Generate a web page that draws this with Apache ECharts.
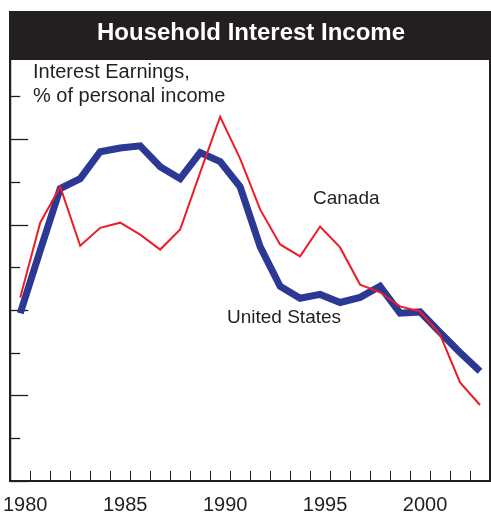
<!DOCTYPE html>
<html>
<head>
<meta charset="utf-8">
<script src="https://cdn.jsdelivr.net/npm/echarts@6/dist/echarts.min.js"></script>
<style>
  html, body { margin: 0; padding: 0; background: #ffffff; }
  #chart { width: 491px; height: 515px; }
</style>
</head>
<body>
<div id="chart"></div>
<script>
// Years on the horizontal axis
const years = ['1980','1981','1982','1983','1984','1985','1986','1987','1988','1989','1990','1991',
               '1992','1993','1994','1995','1996','1997','1998','1999','2000','2001','2002','2003'];

// Interest earnings, % of personal income
const unitedStates = [9.93, 11.40, 12.85, 13.08, 13.71, 13.80, 13.85, 13.36, 13.08, 13.69, 13.48, 12.89,
                      11.49, 10.56, 10.28, 10.37, 10.18, 10.30, 10.56, 9.93, 9.96, 9.48, 9.01, 8.57];
const canada = [10.30, 12.05, 12.89, 11.51, 11.93, 12.05, 11.77, 11.42, 11.89, 13.22, 14.53, 13.55,
                12.36, 11.54, 11.26, 11.96, 11.47, 10.60, 10.42, 10.09, 9.97, 9.43, 8.31, 7.78];

// Vertical axis range (unlabelled ticks)
const yMin = 6, yMax = 16, yStep = 2;

const chart = echarts.init(document.getElementById('chart'), null, { renderer: 'canvas' });

const FONT = 'Liberation Sans, Arial, Helvetica, sans-serif';

chart.setOption({
  animation: false,
  backgroundColor: '#ffffff',
  grid: {
    left: 10, right: 1, top: 54, bottom: 33,
    show: true, borderColor: '#231f20', borderWidth: 2, backgroundColor: 'transparent'
  },
  xAxis: {
    type: 'category',
    data: years,
    boundaryGap: true,
    axisLine: { lineStyle: { color: '#231f20', width: 2 } },
    axisTick: { show: true, inside: true, length: 10, interval: 0, lineStyle: { color: '#231f20', width: 1 } },
    axisLabel: {
      interval: 4, color: '#231f20', fontFamily: FONT, fontSize: 20, margin: 14,
      padding: [0, 0, 0, 10]
    },
    splitLine: { show: false }
  },
  yAxis: {
    type: 'value',
    min: yMin, max: yMax, interval: yStep,
    axisLine: { show: true, lineStyle: { color: '#231f20', width: 2 } },
    axisTick: { show: true, inside: true, length: 18, lineStyle: { color: '#231f20', width: 1.3 } },
    minorTick: { show: true, splitNumber: 2, length: 10, lineStyle: { color: '#231f20', width: 1.3 } },
    axisLabel: { show: false },
    splitLine: { show: false },
    minorSplitLine: { show: false }
  },
  series: [
    {
      name: 'United States',
      type: 'line',
      data: unitedStates,
      symbol: 'none',
      lineStyle: { color: '#2b3894', width: 7, join: 'miter', cap: 'butt' },
      z: 2
    },
    {
      name: 'Canada',
      type: 'line',
      data: canada,
      symbol: 'none',
      lineStyle: { color: '#ee1c25', width: 2, join: 'miter' },
      z: 3
    }
  ],
  graphic: [
    {
      type: 'rect', left: 9, top: 11, z: 10,
      shape: { width: 482, height: 49 },
      style: { fill: '#231f20' }
    },
    {
      type: 'text', z: 11,
      style: {
        x: 251, y: 33, text: 'Household Interest Income', fill: '#ffffff',
        font: 'bold 24px ' + FONT, align: 'center', verticalAlign: 'middle'
      }
    },
    {
      type: 'text', z: 11,
      style: {
        x: 33, y: 72, text: 'Interest Earnings,', fill: '#231f20',
        font: '20px ' + FONT, align: 'left', verticalAlign: 'middle'
      }
    },
    {
      type: 'text', z: 11,
      style: {
        x: 33, y: 96, text: '% of personal income', fill: '#231f20',
        font: '20px ' + FONT, align: 'left', verticalAlign: 'middle'
      }
    },
    {
      type: 'text', z: 11,
      style: {
        x: 313, y: 199, text: 'Canada', fill: '#231f20',
        font: '19px ' + FONT, align: 'left', verticalAlign: 'middle'
      }
    },
    {
      type: 'text', z: 11,
      style: {
        x: 227, y: 318, text: 'United States', fill: '#231f20',
        font: '19px ' + FONT, align: 'left', verticalAlign: 'middle'
      }
    }
  ]
});
</script>
</body>
</html>
